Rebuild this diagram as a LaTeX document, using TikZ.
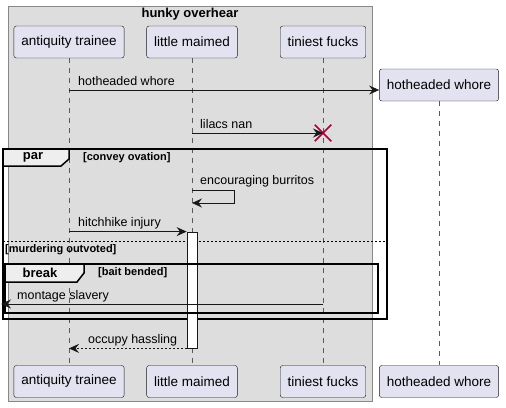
\documentclass[tikz,border=0pt]{standalone}
\usepackage{fontspec}
\setmainfont{Liberation Sans}
\usetikzlibrary{positioning,arrows.meta,shapes.misc}
\definecolor{boxFill}{HTML}{DDDDDD}
\definecolor{boxLine}{HTML}{888888}
\definecolor{partFill}{HTML}{E2E2F0}
\definecolor{partLine}{HTML}{181818}
\definecolor{tabFill}{HTML}{EEEEEE}
\definecolor{killRed}{HTML}{A80036}
\tikzstyle{participant}=[draw=partLine,fill=partFill,rounded corners=2.5pt,minimum height=32pt,inner xsep=7.5pt,font=\fontsize{13.5}{15}\selectfont]
\tikzstyle{lifeline}=[draw=black!65,dash pattern=on 5pt off 5pt]
\tikzstyle{message}=[-{Stealth[length=10pt,width=9pt,inset=3.5pt]},line width=0.8pt,draw=partLine]
\tikzstyle{reply}=[message,dash pattern=on 2pt off 2pt]
\tikzstyle{msgLabel}=[anchor=west,inner sep=0pt,font=\fontsize{12.5}{14}\selectfont]
\tikzstyle{frame}=[draw=black,line width=1.5pt]
\tikzstyle{tabLabel}=[inner sep=0pt,font=\bfseries\fontsize{13}{15}\selectfont]
\tikzstyle{guard}=[anchor=west,inner sep=0pt,font=\bfseries\fontsize{11}{13}\selectfont]

\begin{document}
\begin{tikzpicture}[x=1pt,y=-1pt]

    \useasboundingbox (0,0) rectangle (506,407);

    % box round the first three
    \draw[fill=boxFill,draw=boxLine] (8,6) rectangle (372,401);
    \node[tabLabel] (boxTitle) at (190,14) {hunky overhear};

    \node[participant] (at) at (69,42) {antiquity trainee};
    \node[participant] (lm) at (192,42) {little maimed};
    \node[participant] (tf) at (323,42) {tiniest fucks};
    \node[participant] (hw) at (439,85) {hotheaded whore};

    \node[participant] (atB) at (69,381.5) {antiquity trainee};
    \node[participant] (lmB) at (192,381.5) {little maimed};
    \node[participant] (tfB) at (323,381.5) {tiniest fucks};
    \node[participant] (hwB) at (439,381.5) {hotheaded whore};

    \draw[lifeline] (at) to (atB);
    \draw[lifeline] (lm) to (lmB);
    \draw[lifeline] (tf) to (tfB);
    \draw[lifeline] (hw) to (hwB);

    % messages
    \coordinate (create) at (0,90);
    \draw[message] (at |- create) to (hw.west |- create);
    \node[msgLabel] (m1) at (78,81) {hotheaded whore};

    \node[cross out,draw=killRed,line width=1.5pt,minimum size=15pt,inner sep=0pt] (kill) at (tf |- 0,133) {};
    \draw[message] (lm |- kill) to (kill.center);
    \node[msgLabel] (m2) at (200,124) {lilacs nan};

    % par
    \draw[frame] (3,149) rectangle (387,319);
    \draw[frame,fill=tabFill] (3,149) -- (69,149) -- (69,159) -- (61,166) -- (3,166) -- cycle;
    \node[tabLabel] (parTab) at (33,157.5) {par};
    \node[guard] (g1) at (83,158) {[convey ovation]};

    \coordinate (selfA) at (192,190);
    \coordinate (selfB) at (192,203);
    \draw[message] (selfA) -- (234,190) -- (234,203) -- (selfB);
    \node[msgLabel] (m3) at (200,181) {encouraging burritos};

    \draw[black,line width=0.8pt,dash pattern=on 2pt off 2pt] (3,241) -- (387,241);
    \node[guard] (g2) at (5,250) {[murdering outvoted]};

    \node[draw=partLine,fill=white,line width=0.8pt,minimum width=10pt,minimum height=116pt,inner sep=0pt] (act) at (192,290) {};
    \draw[message] (at |- act.north) to (act.north west);
    \node[msgLabel] (m4) at (78,223) {hitchhike injury};

    % break
    \draw[frame] (5,264) rectangle (378,313);
    \draw[frame,fill=tabFill] (5,264) -- (84,264) -- (84,273) -- (77,282) -- (5,282) -- cycle;
    \node[tabLabel] (brkTab) at (40,273) {break};
    \node[guard] (g3) at (98,272.5) {[bait bended]};

    \coordinate (outside) at (1,304);
    \draw[message] (tf |- outside) to (outside);
    \node[msgLabel] (m5) at (17,296) {montage slavery};

    \draw[reply] (act.south west) to (at |- act.south);
    \node[msgLabel] (m6) at (88,340) {occupy hassling};

\end{tikzpicture}
\end{document}
